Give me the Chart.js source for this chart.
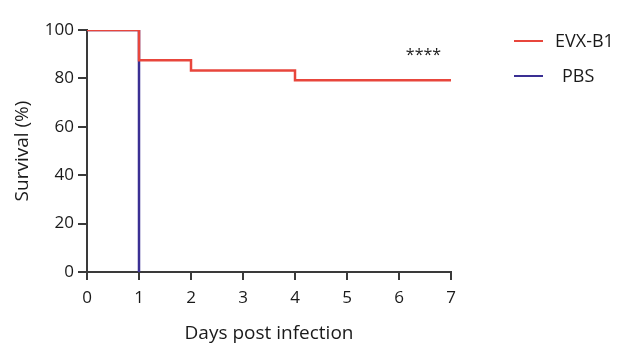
<!DOCTYPE html>
<html>
<head>
<meta charset="utf-8">
<script src="https://cdn.jsdelivr.net/npm/chart.js@4/dist/chart.umd.min.js"></script>
<style>
  html, body { margin: 0; padding: 0; background: #fff; }
  #wrap { width: 623px; height: 357px; position: relative; }
</style>
</head>
<body>
<div id="wrap"><canvas id="chart"></canvas></div>
<script>
// Kaplan-Meier survival steps
const seriesNames = ['EVX-B1', 'PBS'];
const evxDays = [0, 1, 2, 4, 7];
const evxSurvival = [100, 87.5, 83.3, 79.2, 79.2];
const pbsDays = [0, 1];
const pbsSurvival = [100, 0];
const xTicks = [0, 1, 2, 3, 4, 5, 6, 7];
const yTicks = [0, 20, 40, 60, 80, 100];
const significance = '****';

const colors = ['#e8463c', '#3a2f93'];
const axisColor = '#3a3a3a';
const fontFamily = '"Open Sans", "Noto Sans", sans-serif';

const toPoints = (xs, ys) => xs.map((x, i) => ({ x: x, y: ys[i] }));

// legend drawn by hand so it sits where the figure has it
const sideLegend = {
    id: 'sideLegend',
    afterDraw(chart) {
        const ctx = chart.ctx;
        const area = chart.chartArea;
        ctx.save();
        ctx.font = '18px ' + fontFamily;
        ctx.textBaseline = 'middle';
        chart.data.datasets.forEach((ds, i) => {
            const y = area.top + 11 + i * 35;
            const x0 = area.right + 63;
            ctx.strokeStyle = ds.borderColor;
            ctx.lineWidth = 2;
            ctx.beginPath();
            ctx.moveTo(x0, y);
            ctx.lineTo(x0 + 29, y);
            ctx.stroke();
            ctx.fillStyle = '#1a1a1a';
            ctx.fillText(ds.label, x0 + 41 + (i === 1 ? 7 : 0), y + 1);
        });
        // significance stars
        const xs = chart.scales.x, ys = chart.scales.y;
        ctx.font = '16px ' + fontFamily;
        ctx.textAlign = 'center';
        ctx.fillText(significance, xs.getPixelForValue(6.47), ys.getPixelForValue(89.5));
        ctx.restore();
    }
};

const ctx = document.getElementById('chart').getContext('2d');
new Chart(ctx, {
    type: 'line',
    data: {
        datasets: [
            {
                label: seriesNames[0],
                data: toPoints(evxDays, evxSurvival),
                borderColor: colors[0],
                borderWidth: 2.5,
                stepped: 'before',
                pointRadius: 0,
                fill: false
            },
            {
                label: seriesNames[1],
                data: toPoints(pbsDays, pbsSurvival),
                borderColor: colors[1],
                borderWidth: 2.5,
                stepped: 'before',
                pointRadius: 0,
                fill: false
            }
        ]
    },
    options: {
        responsive: true,
        maintainAspectRatio: false,
        animation: false,
        layout: { padding: { top: 30, right: 172, left: 0, bottom: 0 } },
        plugins: {
            legend: { display: false },
            tooltip: { enabled: false }
        },
        scales: {
            x: {
                type: 'linear',
                min: 0,
                max: 7,
                afterFit: (scale) => { scale.height = 85; },
                afterBuildTicks: (scale) => { scale.ticks = xTicks.map(v => ({ value: v })); },
                border: { color: axisColor, width: 2 },
                grid: { drawOnChartArea: false, drawTicks: true, tickLength: 8, color: axisColor, lineWidth: 2 },
                ticks: { color: '#1a1a1a', font: { family: fontFamily, size: 17 }, padding: 8, maxRotation: 0 },
                title: {
                    display: true,
                    text: 'Days post infection',
                    color: '#1a1a1a',
                    font: { family: fontFamily, size: 19 },
                    padding: { top: 0, bottom: 12 }
                }
            },
            y: {
                min: 0,
                max: 100,
                afterFit: (scale) => { scale.width = 87; },
                afterBuildTicks: (scale) => { scale.ticks = yTicks.map(v => ({ value: v })); },
                border: { color: axisColor, width: 2 },
                grid: { drawOnChartArea: false, drawTicks: true, tickLength: 9, color: axisColor, lineWidth: 2 },
                ticks: { color: '#1a1a1a', font: { family: fontFamily, size: 17 }, padding: 4 },
                title: {
                    display: true,
                    text: 'Survival (%)',
                    color: '#1a1a1a',
                    font: { family: fontFamily, size: 19 },
                    padding: { top: 11, bottom: 0 }
                }
            }
        }
    },
    plugins: [sideLegend]
});
</script>
</body>
</html>
